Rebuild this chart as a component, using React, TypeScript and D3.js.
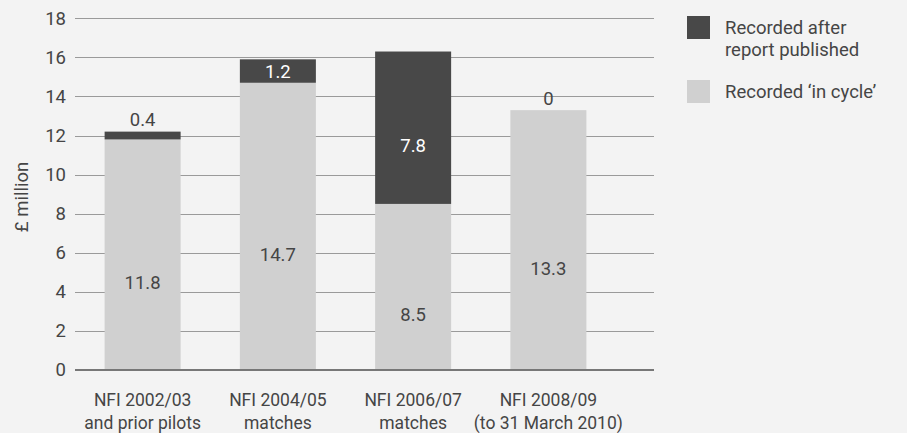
import React, { useEffect, useRef } from 'react';
import * as d3 from 'd3';

const categories = ['NFI 2002/03|and prior pilots', 'NFI 2004/05|matches', 'NFI 2006/07|matches', 'NFI 2008/09|(to 31 March 2010)'];
const inCycle = [11.8, 14.7, 8.5, 13.3];
const afterReport = [0.4, 1.2, 7.8, 0];
const yTicks = [0, 2, 4, 6, 8, 10, 12, 14, 16, 18];
const legendLabels = ['Recorded after|report published', 'Recorded \u2018in cycle\u2019'];

const DARK = '#484848';
const LIGHT = '#d0d0d0';
const TEXT = '#454545';
const FONT = 'Roboto, "Liberation Sans", Arial, sans-serif';
const FS = 18.5;

export default function App() {
    const ref = useRef<SVGSVGElement>(null);

    useEffect(() => {
        document.body.style.margin = '0';
        const svg = d3.select(ref.current);
        svg.selectAll('*').remove();

        const width = 907, height = 433;
        svg.append('rect').attr('width', width).attr('height', height).attr('fill', '#f3f3f3');

        const y = d3.scaleLinear().domain([0, 18]).range([370, 18.3]);
        const x = d3.scaleBand().domain(categories).range([75, 616]).paddingInner(0.438).paddingOuter(0.219);

        // gridlines
        svg.append('g').selectAll('line')
            .data(yTicks.filter(t => t > 0))
            .enter().append('line')
            .attr('x1', 75).attr('x2', 654)
            .attr('y1', d => Math.round(y(d)) + 0.5).attr('y2', d => Math.round(y(d)) + 0.5)
            .attr('stroke', '#9a9a9a').attr('stroke-width', 1);

        svg.append('g').selectAll('text')
            .data(yTicks)
            .enter().append('text')
            .attr('x', 66).attr('y', d => y(d))
            .attr('dy', '0.35em')
            .attr('text-anchor', 'end')
            .attr('font-family', FONT).attr('font-size', FS).attr('fill', TEXT)
            .text(d => d);

        svg.append('text')
            .attr('transform', `translate(28,197) rotate(-90)`)
            .attr('text-anchor', 'middle')
            .attr('font-family', FONT).attr('font-size', FS).attr('fill', TEXT)
            .text('\u00a3 million');

        const stacks = categories.map((c, i) => ({ c, a: inCycle[i], b: afterReport[i] }));

        const g = svg.append('g');
        g.selectAll('rect.in')
            .data(stacks).enter().append('rect')
            .attr('x', d => x(d.c)!).attr('width', x.bandwidth())
            .attr('y', d => y(d.a)).attr('height', d => y(0) - y(d.a))
            .attr('fill', LIGHT);
        g.selectAll('rect.after')
            .data(stacks).enter().append('rect')
            .attr('x', d => x(d.c)!).attr('width', x.bandwidth())
            .attr('y', d => y(d.a + d.b)).attr('height', d => y(d.a) - y(d.a + d.b))
            .attr('fill', DARK);

        // labels in cycle
        g.selectAll('text.in')
            .data(stacks).enter().append('text')
            .attr('x', d => x(d.c)! + x.bandwidth() / 2)
            .attr('y', d => (y(0) + y(d.a)) / 2 + 28)
            .attr('dy', '0.35em').attr('text-anchor', 'middle')
            .attr('font-family', FONT).attr('font-size', FS).attr('fill', TEXT)
            .text(d => d.a);

        g.selectAll('text.after')
            .data(stacks).enter().append('text')
            .attr('x', d => x(d.c)! + x.bandwidth() / 2)
            .attr('y', d => {
                const h = y(d.a) - y(d.a + d.b);
                if (h < 15) return y(d.a + d.b) - 12;
                if (h > 60) return (y(d.a) + y(d.a + d.b)) / 2 + 18;
                return (y(d.a) + y(d.a + d.b)) / 2;
            })
            .attr('dy', '0.35em').attr('text-anchor', 'middle')
            .attr('font-family', FONT).attr('font-size', FS)
            .attr('fill', d => (y(d.a) - y(d.a + d.b) < 15 ? TEXT : '#ffffff'))
            .text(d => d.b);

        // axis line
        svg.append('line')
            .attr('x1', 75).attr('x2', 654).attr('y1', y(0)).attr('y2', y(0))
            .attr('stroke', '#777').attr('stroke-width', 2);

        // category labels
        const cl = svg.append('g').selectAll('text')
            .data(categories).enter().append('text')
            .attr('x', d => x(d)! + x.bandwidth() / 2)
            .attr('y', 400)
            .attr('text-anchor', 'middle')
            .attr('font-family', FONT).attr('font-size', 17.5).attr('fill', TEXT);
        cl.selectAll('tspan')
            .data(d => d.split('|').map(t => ({ t, cx: x(d)! + x.bandwidth() / 2 })))
            .enter().append('tspan')
            .attr('x', d => d.cx)
            .attr('dy', (d, i) => (i === 0 ? '0.35em' : 23))
            .text(d => d.t);

        // legend
        const leg = svg.append('g');
        const legColors = [DARK, LIGHT];
        const legY = [16, 80];
        legendLabels.forEach((l, i) => {
            leg.append('rect').attr('x', 687).attr('y', legY[i]).attr('width', 23).attr('height', 23).attr('fill', legColors[i]);
            const t = leg.append('text')
                .attr('x', 725).attr('y', legY[i] + 12)
                .attr('font-family', FONT).attr('font-size', FS).attr('fill', TEXT);
            l.split('|').forEach((s, j) => {
                t.append('tspan').attr('x', 725).attr('dy', j === 0 ? '0.35em' : 22).text(s);
            });
        });
    }, []);

    return <svg ref={ref} width={907} height={433} style={{ display: 'block' }} />;
}
